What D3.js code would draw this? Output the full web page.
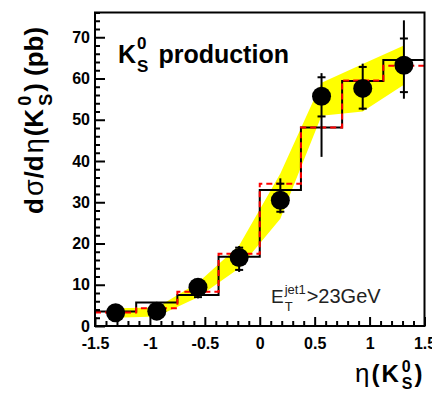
<!DOCTYPE html>
<html>
<head>
<meta charset="utf-8">
<script src="https://cdn.jsdelivr.net/npm/d3@7"></script>
<style>
  body { margin: 0; background: #fff; }
  svg { display: block; font-family: "Liberation Sans", Arial, sans-serif; }
</style>
</head>
<body>
<div id="chart-area"></div>
<script>
// K0s production, d sigma / d eta

// bin edges and centres in eta
var binEdges = [-1.5, -1.125, -0.75, -0.375, 0, 0.375, 0.75, 1.125, 1.5];
var eta = [-1.3125, -0.9375, -0.5625, -0.1875, 0.1875, 0.5625, 0.9375, 1.3125];

// data points (pb)
var xsec  = [3.2, 3.6, 9.4, 16.6, 30.5, 55.7, 57.6, 63.2];
var statLo = [2.0, 2.4, 7.0, 13.6, 27.7, 50.8, 52.7, 56.7];
var statHi = [4.4, 4.8, 11.2, 19.0, 34.5, 60.3, 62.8, 69.7];
var totLo  = [1.8, 2.2, 6.7, 13.1, 27.3, 41.0, 52.3, 55.1];
var totHi  = [4.6, 5.0, 11.5, 19.4, 35.8, 61.3, 63.6, 74.1];

// systematic band
var bandLo = [2.0, 2.3, 7.0, 14.0, 26.0, 51.0, 52.0, 58.5];
var bandHi = [4.3, 4.5, 10.5, 19.5, 37.0, 59.0, 63.5, 68.0];

// MC histograms
var mcBlack = [3.5, 5.7, 7.5, 16.8, 33.0, 48.1, 59.4, 64.5];
var mcRed   = [3.3, 4.3, 8.3, 17.5, 34.5, 48.1, 59.5, 63.1];

// axis ticks
var yMajor = [0, 10, 20, 30, 40, 50, 60, 70];
var xMajor = [-1.5, -1, -0.5, 0, 0.5, 1, 1.5];
var xTickLabels = ["-1.5", "-1", "-0.5", "0", "0.5", "1", "1.5"];

var margin = { top: 12.5, right: 7.5, bottom: 67, left: 95 };
var width = 432 - margin.left - margin.right;
var height = 393 - margin.top - margin.bottom;

var svg = d3.select("#chart-area").append("svg")
    .attr("width", 432)
    .attr("height", 393);

var g = svg.append("g")
    .attr("transform", "translate(" + margin.left + "," + margin.top + ")");

var x = d3.scaleLinear().domain([-1.5, 1.5]).range([0, width]);
var y = d3.scaleLinear().domain([0, 76]).range([height, 0]);

// yellow band
var area = d3.area()
    .x(function(d, i) { return x(eta[i]); })
    .y0(function(d, i) { return y(bandLo[i]); })
    .y1(function(d, i) { return y(bandHi[i]); });
g.append("path")
    .datum(eta)
    .attr("d", area)
    .attr("fill", "#ffff00");

// step histograms
function stepPoints(vals) {
  var pts = vals.map(function(v, i) { return [binEdges[i], v]; });
  pts.push([binEdges[vals.length], vals[vals.length - 1]]);
  return pts;
}
var step = d3.line()
    .x(function(d) { return x(d[0]); })
    .y(function(d) { return y(d[1]); })
    .curve(d3.curveStepAfter);

g.append("path")
    .attr("d", step(stepPoints(mcBlack)))
    .attr("fill", "none")
    .attr("stroke", "#000")
    .attr("stroke-width", 2);
g.append("path")
    .attr("d", step(stepPoints(mcRed)))
    .attr("fill", "none")
    .attr("stroke", "#ff0000")
    .attr("stroke-width", 2)
    .attr("stroke-dasharray", "6,4");

// error bars
var pts = g.selectAll(".pt").data(eta).enter().append("g").attr("class", "pt");
pts.append("line")
    .attr("x1", function(d) { return x(d); })
    .attr("x2", function(d) { return x(d); })
    .attr("y1", function(d, i) { return y(totLo[i]); })
    .attr("y2", function(d, i) { return y(totHi[i]); })
    .attr("stroke", "#000").attr("stroke-width", 2);
[statLo, statHi].forEach(function(arr) {
  pts.append("line")
      .attr("x1", function(d) { return x(d) - 4; })
      .attr("x2", function(d) { return x(d) + 4; })
      .attr("y1", function(d, i) { return y(arr[i]); })
      .attr("y2", function(d, i) { return y(arr[i]); })
      .attr("stroke", "#000").attr("stroke-width", 2);
});
pts.append("circle")
    .attr("cx", function(d) { return x(d); })
    .attr("cy", function(d, i) { return y(xsec[i]); })
    .attr("r", 9.5)
    .attr("fill", "#000");

// axes
var yAxis = g.append("g")
    .call(d3.axisLeft(y).tickValues(yMajor).tickSizeInner(-10).tickSizeOuter(0).tickPadding(5));
var yMinor = g.append("g")
    .call(d3.axisLeft(y).tickValues(d3.range(0, 77, 2).filter(function(v) { return v % 10; }))
      .tickSizeInner(-5).tickSizeOuter(0).tickFormat(""));
var xAxis = g.append("g")
    .attr("transform", "translate(0," + height + ")")
    .call(d3.axisBottom(x).tickValues(xMajor).tickSizeInner(-9).tickSizeOuter(0).tickPadding(12)
      .tickFormat(function(d, i) { return xTickLabels[i]; }));
var xMinor = g.append("g")
    .attr("transform", "translate(0," + height + ")")
    .call(d3.axisBottom(x).tickValues(d3.range(-14, 15).filter(function(v) { return v % 5; }).map(function(v) { return v / 10; }))
      .tickSizeInner(-5).tickSizeOuter(0).tickFormat(""));

[yAxis, yMinor, xAxis, xMinor].forEach(function(a) {
  a.select(".domain").remove();
  a.selectAll("line").attr("stroke", "#000").attr("stroke-width", 2);
  a.selectAll("text")
    .attr("font-family", "Liberation Sans, Arial, sans-serif")
    .attr("font-weight", "bold")
    .attr("font-size", "16px")
    .attr("fill", "#000");
});

// frame
g.append("rect")
    .attr("width", width).attr("height", height)
    .attr("fill", "none").attr("stroke", "#000").attr("stroke-width", 2);

// helper for text with stacked super/subscripts
function richText(parent, x0, y0, parts) {
  var cx = x0;
  parts.forEach(function(p) {
    if (p.sup !== undefined) {
      var a = parent.append("text").attr("x", cx).attr("y", y0 + p.supDy)
          .attr("font-size", p.size + "px").attr("font-weight", p.weight || "bold").text(p.sup);
      var b = parent.append("text").attr("x", cx).attr("y", y0 + p.subDy)
          .attr("font-size", p.size + "px").attr("font-weight", p.weight || "bold").text(p.sub);
      cx += Math.max(a.node().getComputedTextLength(), b.node().getComputedTextLength()) + (p.gap || 0);
    } else {
      var t = parent.append("text").attr("x", cx).attr("y", y0)
          .attr("font-size", p.size + "px").attr("font-weight", p.weight || "bold").text(p.text);
      cx += t.node().getComputedTextLength() + (p.gap || 0);
    }
  });
}

// in-frame labels
richText(svg.append("g"), 118, 63, [
  { text: "K", size: 25, gap: 1 },
  { sup: "0", sub: "S", size: 17, supDy: -14, subDy: 9, gap: 10 },
  { text: "production", size: 25 }
]);
richText(svg.append("g").attr("fill", "#222"), 271, 303, [
  { text: "E", size: 19, weight: "normal", gap: 1 },
  { sup: "jet1", sub: "T", size: 13, weight: "normal", supDy: -9, subDy: 8, gap: 1 },
  { text: ">23GeV", size: 20, weight: "normal" }
]);

// axis titles
richText(svg.append("g"), 355, 382, [
  { text: "η", size: 26, weight: "normal", gap: 2 },
  { text: "(", size: 24, gap: 2 },
  { text: "K", size: 24, gap: 3 },
  { sup: "0", sub: "S", size: 16, supDy: -10, subDy: 7, gap: 2 },
  { text: ")", size: 24 }
]);
richText(svg.append("g").attr("transform", "translate(43,214) rotate(-90)"), 0, 0, [
  { text: "d", size: 26, gap: 2 },
  { text: "σ", size: 27, weight: "normal", gap: 1 },
  { text: "/d", size: 26, gap: 2 },
  { text: "η", size: 27, weight: "normal", gap: 2 },
  { text: "(K", size: 26, gap: 3 },
  { sup: "0", sub: "S", size: 18, supDy: -12, subDy: 9, gap: 2 },
  { text: ") (pb)", size: 26 }
]);
</script>
</body>
</html>
